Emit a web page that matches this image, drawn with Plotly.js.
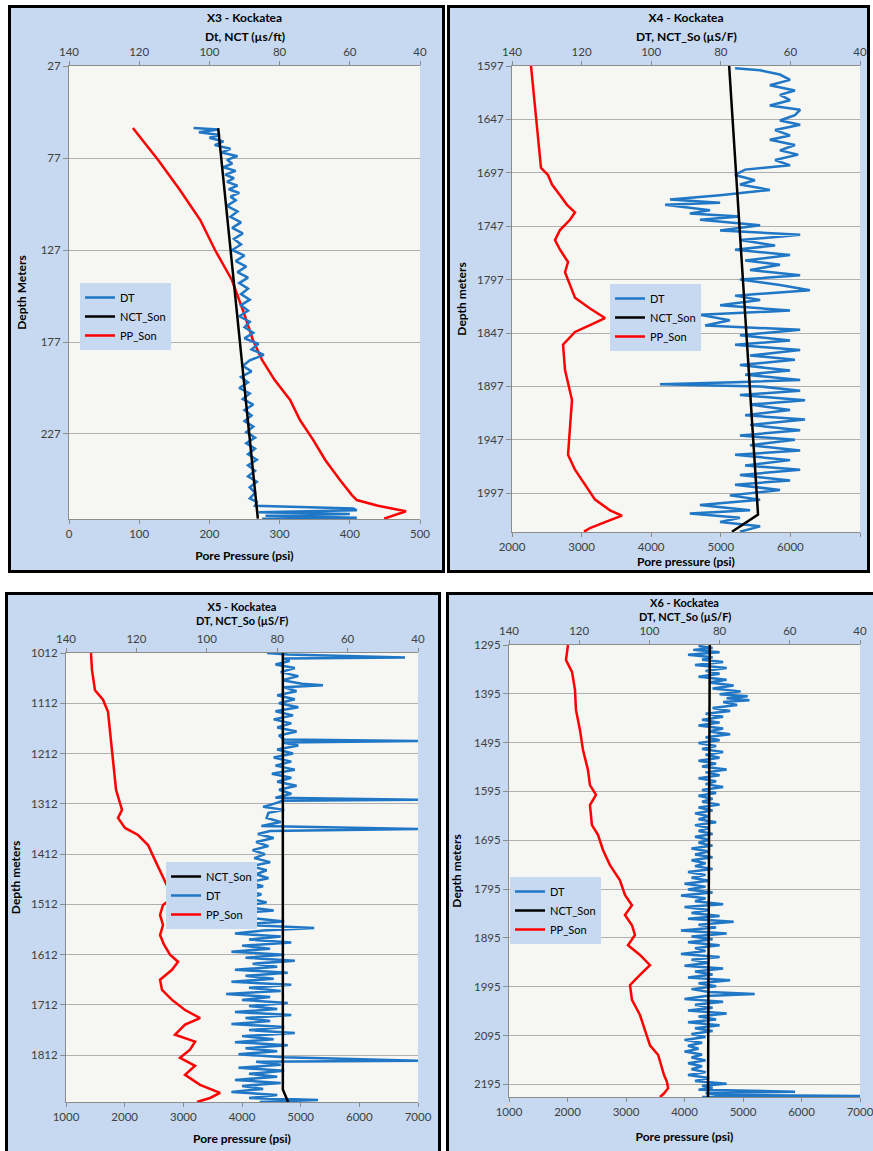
<!DOCTYPE html>
<html><head><meta charset="utf-8">
<script src="https://cdn.plot.ly/plotly-3.0.1.min.js"></script>
<style>
body{margin:0;background:#fff;width:873px;height:1151px;overflow:hidden;position:relative;}
.panel{position:absolute;box-sizing:border-box;border:3px solid #000;background:#c6d9f1;overflow:hidden;}
</style></head><body>
<div id="p1" class="panel"></div>
<div id="p2" class="panel"></div>
<div id="p3" class="panel"></div>
<div id="p4" class="panel"></div>
<script>
// ---------------- X3 ----------------
const x3DepthTicks = [27, 77, 127, 177, 227];
const x3PpTicks = [0, 100, 200, 300, 400, 500];
const x3DtDepth = [60.7,61.5,63,64.5,66,68,70,72,74,76,78,80,82,84,86,88,90,92,94,96,98,100,103,106,109,112,115,118,121,124,127,130,133,136,139,142,145,148,151,154,157,160,163,166,169,172,175,178,181,184,187,190,193,196,199,202,205,208,211,214,217,220,223,226,229,232,235,238,241,244,247,250,253,256,259,262,264,266,267.5,268.5,269.5,270.5,271.5,272.5,273];
const x3Dt = [104.5,97.5,103,97,100,96,98.5,94,96.5,92,95,93.5,96,92.5,95.5,93,95,92,94.5,91.5,94,92.5,95,92,94,91,93.5,90.5,93,91,93.5,90,92.5,89.5,92,89,91.5,89,91,88.5,91,89,91.5,88.5,90,87.5,90,86,88,84.5,88.5,90.5,88,91,89,91.5,88.5,90.5,87.5,90,88,90,87.5,89.5,87,89.5,87,89,86.5,89,87,89,86.5,88.5,87,88.5,86.5,87,59,58,86,60,84,58,85];
const x3NctDepth = [60.7, 273];
const x3Nct = [97.5, 86.2];
const x3PpDepth = [60.7,78.1,94.4,110.7,127,143.3,160,175.9,186.8,197.7,208.5,219.4,230.3,241.1,252,260.2,262.9,266,269,273];
const x3Pp = [91,127,158,187,208,232,248,262,275,293,315,329,348,365,386,403,410,440,480,449];

// ---------------- X4 ----------------
const x4DepthTicks = [1597,1647,1697,1747,1797,1847,1897,1947,1997];
const x4PpTicks = [2000,3000,4000,5000,6000,7000];
const x4DtDepth = [1599,1601,1605,1610,1615,1620,1624,1629,1634,1638,1643,1648,1652,1657,1662,1666,1671,1676,1680,1685,1690,1694,1699,1704,1708,1713,1718,1722,1725,1727,1732,1735,1738,1741,1746,1751,1755,1760,1765,1769,1774,1779,1783,1788,1793,1797,1802,1807,1812,1816,1821,1826,1830,1835,1840,1844,1849,1854,1858,1863,1868,1872,1877,1882,1886,1891,1893,1895,1897,1901,1905,1910,1914,1919,1924,1928,1933,1938,1943,1947,1952,1957,1961,1966,1971,1975,1980,1985,1989,1994,1999,2003,2008,2013,2016,2020,2024,2028,2033];
const x4Dt = [75.9,68.7,63.0,60.1,65.9,58.7,63.0,60.1,65.9,57.2,58.7,63.0,57.2,64.4,60.1,65.9,58.7,63.0,57.8,64.4,60.1,73.0,75.9,70.2,74.5,65.9,80.2,94.6,80.2,96.0,83.1,88.9,74.5,86.0,68.7,80.2,57.2,74.5,64.4,75.9,60.1,73.0,63.0,71.6,57.2,74.5,63.0,54.4,75.9,68.7,80.2,60.1,86.0,77.4,84.5,57.2,74.5,60.1,75.9,57.2,71.6,58.7,74.5,60.1,73.0,57.2,75.9,97.5,68.7,57.2,74.5,55.8,71.6,60.1,73.0,55.8,71.6,57.2,74.5,58.7,71.6,57.2,75.9,60.1,73.0,57.2,74.5,60.1,75.9,63.0,77.4,68.7,86.0,71.6,88.9,74.5,80.2,68.7,74.5];
const x4NctDepth = [1597, 2017, 2033];
const x4Nct = [77.6, 69.3, 76.8];
const x4PpDepth = [1597,1685,1692.5,1699,1708,1718,1727,1734,1741,1750.6,1760,1769,1780.5,1790,1802,1814,1824,1833,1839.5,1846,1858,1881.6,1909.7,1937.8,1961,1975,1989,2003,2013,2018,2024,2029.6,2033];
const x4Pp = [2273,2402,2417,2517,2575,2690,2790,2905,2833,2690,2618,2690,2805,2762,2833,2905,3121,3336,3121,2905,2733,2762,2862,2833,2805,2905,3049,3193,3408,3580,3336,3121,3035];

// ---------------- X5 ----------------
const x5DepthTicks = [1012,1112,1212,1312,1412,1512,1612,1712,1812];
const x5PpTicks = [1000,2000,3000,4000,5000,6000,7000];
const x5DtDepth = [1012,1015,1021,1023,1028,1035,1042,1050,1058,1066,1073,1076,1080,1088,1096,1104,1112,1120,1128,1136,1144,1152,1160,1168,1176,1184,1187,1190,1196,1204,1212,1220,1228,1236,1244,1252,1260,1268,1276,1284,1292,1300,1304,1306,1312,1318,1324,1330,1340,1348,1356,1362,1366,1372,1380,1388,1396,1404,1412,1420,1428,1436,1444,1452,1460,1468,1476,1484,1492,1500,1508,1516,1524,1530,1540,1546,1552,1559,1564,1570,1576,1582,1588,1594,1600,1606,1612,1618,1624,1630,1636,1642,1648,1654,1660,1666,1672,1678,1684,1690,1696,1702,1708,1714,1720,1726,1732,1738,1744,1750,1756,1762,1768,1774,1780,1786,1792,1798,1804,1810,1816,1823,1825,1831,1837,1843,1849,1855,1861,1867,1873,1879,1885,1891,1897,1901,1905];
const x5Dt = [82.9,77.0,43.7,78.0,76.5,80.5,75.0,79.0,74.0,78.5,73.0,67.0,78.0,74.5,80.0,75.0,79.5,74.0,80.5,75.5,81.0,76.0,80.0,74.5,79.5,78.0,40.0,78.5,74.0,80.0,75.5,81.0,76.0,80.5,75.0,81.5,76.0,80.0,74.5,79.5,76.0,80.5,40.0,78.5,81.0,84.0,78.0,82.5,83.0,79.0,84.5,40.0,82.0,85.5,81.0,86.0,82.5,87.0,83.5,86.5,82.0,87.5,83.0,86.0,82.5,88.0,84.0,89.5,84.5,88.0,83.0,90.0,81.0,91.5,86.0,78.0,91.0,69.5,84.0,92.0,79.0,88.0,76.0,90.0,82.0,93.0,78.0,89.0,75.0,87.0,80.0,92.0,77.0,89.0,81.0,93.0,76.0,88.0,79.0,94.5,82.0,90.0,77.0,88.0,80.0,92.0,76.0,89.0,82.0,93.0,78.0,88.0,75.0,90.0,81.0,92.0,77.0,89.0,80.0,91.0,78.0,40.0,86.0,79.0,91.0,78.0,88.0,80.0,92.0,79.0,90.0,84.0,93.0,80.0,88.0,68.4,85.0];
const x5NctDepth = [1012, 1880, 1905];
const x5Nct = [78.4, 78.4, 76.9];
const x5PpDepth = [1012,1046,1086,1105,1129,1165,1205,1245,1284,1304,1324,1340,1360,1374,1394,1424,1453,1479,1503,1513,1533,1553,1573,1592,1612,1626,1642,1662,1682,1702,1722,1738,1751,1771,1785,1801,1817,1833,1851,1871,1887,1897,1905];
const x5Pp = [1426,1443,1494,1631,1716,1750,1784,1818,1853,1904,1955,1887,2006,2228,2398,2517,2637,2739,2773,2654,2603,2654,2603,2671,2773,2910,2807,2603,2637,2807,3029,3285,3029,2858,3200,3114,2944,3200,3029,3285,3626,3455,3234];

// ---------------- X6 ----------------
const x6DepthTicks = [1295,1395,1495,1595,1695,1795,1895,1995,2095,2195];
const x6PpTicks = [1000,2000,3000,4000,5000,6000,7000];
const x6DtDepth = [1297,1301,1305,1310,1315,1320,1325,1330,1336,1342,1348,1354,1360,1366,1372,1378,1384,1390,1396,1400,1404,1408,1412,1418,1424,1430,1436,1442,1448,1454,1460,1466,1472,1478,1484,1490,1496,1502,1508,1514,1520,1526,1532,1538,1544,1550,1556,1562,1568,1574,1580,1586,1592,1598,1604,1610,1616,1622,1628,1634,1640,1646,1652,1658,1664,1670,1676,1682,1688,1694,1700,1706,1712,1718,1724,1730,1736,1742,1748,1754,1760,1766,1772,1778,1784,1790,1796,1802,1808,1814,1820,1826,1832,1838,1844,1850,1856,1862,1868,1874,1880,1886,1892,1898,1904,1910,1916,1922,1928,1934,1940,1946,1952,1958,1964,1970,1976,1982,1988,1994,2000,2006,2010,2014,2020,2026,2032,2038,2044,2050,2056,2062,2068,2074,2080,2086,2092,2098,2104,2110,2116,2122,2128,2134,2140,2146,2152,2158,2164,2170,2176,2182,2188,2194,2198,2202,2206,2210,2213,2217,2219,2221];
const x6Dt = [86,82,87.5,80,89,82,85,79,87,78,84,80,86,78,83,76,82,74,80,72,78,71.5,79,75,82,77,84,79,85,80,86,79,83,77,84,80,86,81,85,79,84,80,86,81,85,78,84,80,86,81,84,79,85,81,86,82,85,80,86,82,87,83,86,81,87,83,86,82,87,83,86,82,88,83,87,82,88,84,87,82,89,84,88,83,90,84,89,82,91,84,87,79,90,83,88,80,89,76,86,81,91,78,88,82,89,80,87,84,91,80,88,83,90,79,87,82,89,77,86,81,88,83,70,84,90,79,87,82,89,78,86,81,89,80,87,82,88,84,90,85,89,86,90,85,88,84,89,85,88,84,89,83,87,78,85,82,86,58.5,84,80,40,85];
const x6NctDepth = [1295, 2221];
const x6Nct = [82.8, 83.3];
const x6PpDepth = [1295,1326,1350,1387,1428,1469,1510,1551,1582,1602,1623,1664,1684,1715,1746,1777,1807,1828,1848,1869,1889,1910,1930,1951,1971,1992,2022,2053,2084,2115,2135,2156,2176,2190,2203,2215,2221];
const x6Pp = [2008,1974,2077,2128,2145,2213,2265,2350,2384,2487,2384,2418,2521,2606,2726,2897,2982,3102,2982,3102,3153,3034,3239,3410,3239,3068,3102,3239,3324,3410,3550,3600,3650,3700,3720,3640,3580];

// ---------------- drawing ----------------
const FONT = 'Lato, "Open Sans", sans-serif';
const BLUE = '#1f77c6', RED = '#ff0000', BLK = '#000000';
const PANEL_BG = '#c6d9f1';

function panel(id, box, plot, cfg) {
  const el = document.getElementById(id);
  const bw = 3;
  el.style.left = box[0] + 'px'; el.style.top = box[1] + 'px';
  el.style.width = (box[2] - box[0]) + 'px'; el.style.height = (box[3] - box[1]) + 'px';
  const ox = box[0] + bw, oy = box[1] + bw;
  const W = box[2] - box[0] - 2 * bw, H = box[3] - box[1] - 2 * bw;
  const l = plot[0] - ox, t = plot[1] - oy;
  const pw = plot[2] - plot[0], ph = plot[3] - plot[1];
  const r = W - l - pw, b = H - t - ph;
  const lx = (cfg.legendPx[0] - plot[0]) / pw, ly = 1 - (cfg.legendPx[1] - plot[1]) / ph;

  const traces = [
    {x: cfg.dt, y: cfg.dtDepth, xaxis: 'x2', yaxis: 'y', name: 'DT', mode: 'lines',
     line: {color: BLUE, width: 2.5}, legendrank: cfg.rank[0]},
    {x: cfg.nct, y: cfg.nctDepth, xaxis: 'x2', yaxis: 'y', name: 'NCT_Son', mode: 'lines',
     line: {color: BLK, width: 2.5}, legendrank: cfg.rank[1]},
    {x: cfg.pp, y: cfg.ppDepth, xaxis: 'x', yaxis: 'y', name: 'PP_Son', mode: 'lines',
     line: {color: RED, width: 2.5}, legendrank: cfg.rank[2]}
  ];
  const axBase = {showline: true, linecolor: '#8c8c8c', linewidth: 1, ticks: 'outside', ticklen: 4,
    tickcolor: '#8c8c8c', showgrid: false, zeroline: false,
    tickfont: {family: FONT, size: 11.5, color: '#404040'}};
  const tf = {family: FONT, size: cfg.titleSize, color: '#000'};
  const tf2 = {family: FONT, size: 12, color: '#000'};
  const layout = {
    width: W, height: H,
    margin: {l: l, r: r, t: t, b: b, pad: 0},
    paper_bgcolor: PANEL_BG, plot_bgcolor: '#f6f6f3',
    font: {family: FONT, size: 11, color: '#000'},
    title: {text: '<b>' + cfg.title + '</b>', font: tf,
      x: 0.5, xref: 'paper', xanchor: 'center',
      y: 1 - (cfg.titleY - oy) / H, yref: 'container', yanchor: 'middle'},
    annotations: [{text: '<b>' + cfg.dtTitle + '</b>', font: tf, showarrow: false,
      xref: 'paper', yref: 'paper', x: 0.5, xanchor: 'center',
      y: 1 + (plot[1] - cfg.dtTitleY) / ph, yanchor: 'middle'}],
    showlegend: true,
    legend: {x: lx, y: ly, xanchor: 'left', yanchor: 'top', bgcolor: PANEL_BG,
      borderwidth: 0, font: {family: FONT, size: 11, color: '#000'}, tracegroupgap: 0, itemwidth: 30},
    xaxis: Object.assign({}, axBase, {range: cfg.ppRange, tickvals: cfg.ppTicks, side: 'bottom', anchor: 'y',
      title: {text: '<b>' + cfg.ppTitle + '</b>', font: tf2, standoff: cfg.ppStandoff}}),
    xaxis2: Object.assign({}, axBase, {range: [140, 40], tickvals: [140, 120, 100, 80, 60, 40], side: 'top',
      overlaying: 'x', anchor: 'y'}),
    yaxis: Object.assign({}, axBase, {range: cfg.depthRange, tickvals: cfg.depthTicks, ticklen: 5,
      showgrid: true, gridcolor: '#b0b0b0', gridwidth: 1,
      title: {text: '<b>' + cfg.depthTitle + '</b>', font: tf2, standoff: cfg.depthStandoff}})
  };
  Plotly.newPlot(el, traces, layout, {staticPlot: true, displayModeBar: false});
}

panel('p1', [8, 5, 445, 573], [69, 66, 420, 519], {
  title: 'X3 - Kockatea', titleY: 18, dtTitle: 'Dt, NCT (µs/ft)', dtTitleY: 37, titleSize: 12,
  ppTitle: 'Pore Pressure (psi)', ppStandoff: 12, depthTitle: 'Depth Meters', depthStandoff: 11,
  dt: x3Dt, dtDepth: x3DtDepth, nct: x3Nct, nctDepth: x3NctDepth, pp: x3Pp, ppDepth: x3PpDepth,
  ppRange: [0, 500], ppTicks: x3PpTicks, depthRange: [273.2, 27], depthTicks: x3DepthTicks,
  legendPx: [80, 283], rank: [1, 2, 3]
});
panel('p2', [447, 5, 870, 573], [512, 66, 860, 532], {
  title: 'X4 - Kockatea', titleY: 18, dtTitle: 'DT, NCT_So (µS/F)', dtTitleY: 36, titleSize: 12,
  ppTitle: 'Pore pressure (psi)', ppStandoff: 5, depthTitle: 'Depth meters', depthStandoff: 7,
  dt: x4Dt, dtDepth: x4DtDepth, nct: x4Nct, nctDepth: x4NctDepth, pp: x4Pp, ppDepth: x4PpDepth,
  ppRange: [2000, 7000], ppTicks: x4PpTicks, depthRange: [2033.3, 1597], depthTicks: x4DepthTicks,
  legendPx: [610, 284], rank: [1, 2, 3]
});
panel('p3', [5, 592, 441, 1162], [66, 653, 418, 1102], {
  title: 'X5 - Kockatea', titleY: 607, dtTitle: 'DT, NCT_So (µS/F)', dtTitleY: 621, titleSize: 11,
  ppTitle: 'Pore pressure (psi)', ppStandoff: 12, depthTitle: 'Depth meters', depthStandoff: 9,
  dt: x5Dt, dtDepth: x5DtDepth, nct: x5Nct, nctDepth: x5NctDepth, pp: x5Pp, ppDepth: x5PpDepth,
  ppRange: [1000, 7000], ppTicks: x5PpTicks, depthRange: [1905, 1012], depthTicks: x5DepthTicks,
  legendPx: [166, 862], rank: [2, 1, 3]
});
panel('p4', [446, 592, 885, 1162], [509, 645, 860, 1097], {
  title: 'X6 - Kockatea', titleY: 603, dtTitle: 'DT, NCT_So (µS/F)', dtTitleY: 617, titleSize: 11,
  ppTitle: 'Pore pressure (psi)', ppStandoff: 15, depthTitle: 'Depth meters', depthStandoff: 9,
  dt: x6Dt, dtDepth: x6DtDepth, nct: x6Nct, nctDepth: x6NctDepth, pp: x6Pp, ppDepth: x6PpDepth,
  ppRange: [1000, 7000], ppTicks: x6PpTicks, depthRange: [2221, 1295], depthTicks: x6DepthTicks,
  legendPx: [510, 877], rank: [1, 2, 3]
});
</script>
</body></html>
